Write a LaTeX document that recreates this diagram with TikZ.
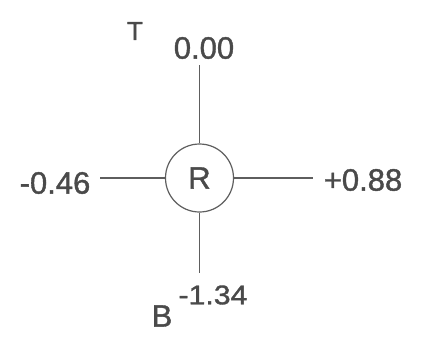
\documentclass[tikz,border=0pt]{standalone}
\usepackage{fontspec}
\setmainfont{Liberation Sans}
\newfontfamily\heavyfont[FakeBold=1.2]{Liberation Sans}
\definecolor{ink}{HTML}{4A4A4A}
\definecolor{wire}{HTML}{5E5E5E}
\begin{document}
\begin{tikzpicture}[x=1pt,y=-1pt,
  lbl/.style={text=ink,inner sep=0pt,font=\heavyfont\fontsize{31}{31}\selectfont},
  small/.style={text=ink,inner sep=0pt,font=\heavyfont\fontsize{26}{26}\selectfont},
  wireline/.style={draw=wire,line width=1.2pt}]
\useasboundingbox[fill=white] (0,0) rectangle (421,349);
\node[draw=wire,line width=1.2pt,circle,minimum size=68pt,inner sep=0pt,lbl] (R) at (199.5,178) {R};
\node[lbl] (top) at (204,48) {0.00};
\node[lbl] (left) at (55,183) {-0.46};
\node[lbl] (right) at (363,180) {+0.88};
\node[lbl,xscale=1.12,font=\heavyfont\fontsize{27}{27}\selectfont] (bot) at (213,295) {-1.34};
\node[small] (T) at (135,31) {T};
\node[lbl] (B) at (162,316) {B};
\coordinate (tEnd) at (199.5,65);
\coordinate (lEnd) at (100,178);
\coordinate (rEnd) at (313,178);
\coordinate (bEnd) at (199.5,273);
\draw[wireline] (R.north) -- (tEnd);
\draw[wireline] (R.west) -- (lEnd);
\draw[wireline] (R.east) -- (rEnd);
\draw[wireline] (R.south) -- (bEnd);
\end{tikzpicture}
\end{document}
